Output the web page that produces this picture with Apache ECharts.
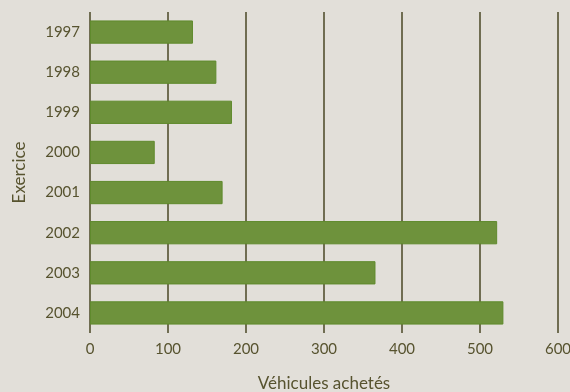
<!DOCTYPE html>
<html>
<head>
<meta charset="utf-8">
<script src="https://cdn.jsdelivr.net/npm/echarts@6/dist/echarts.min.js"></script>
<style>
  html, body { margin: 0; padding: 0; background: #e2dfd9; }
  #chart { width: 570px; height: 392px; }
</style>
</head>
<body>
<div id="chart"></div>
<script>
// Fleet purchases per fiscal year
const years = ['1997', '1998', '1999', '2000', '2001', '2002', '2003', '2004'];
const vehicles = [132, 162, 182, 83, 170, 522, 366, 530];
const xTicks = { min: 0, max: 600, interval: 100 };

const textColor = '#57532f';
const lineColor = '#4a4724';
const font = 'Lato, "Open Sans", sans-serif';

const chart = echarts.init(document.getElementById('chart'));
chart.setOption({
  backgroundColor: '#e2dfd9',
  animation: false,
  grid: { left: 90, right: 12, top: 12, bottom: 59, outerBoundsMode: 'none', containLabel: false },
  xAxis: {
    type: 'value',
    min: xTicks.min,
    max: xTicks.max,
    interval: xTicks.interval,
    name: 'Véhicules achetés',
    nameLocation: 'middle',
    nameGap: 42,
    nameTextStyle: { color: textColor, fontSize: 17, fontFamily: font },
    axisLine: { show: false },
    axisTick: { show: false },
    axisLabel: { color: textColor, fontSize: 15, fontFamily: font, margin: 9 },
    splitLine: { show: true, lineStyle: { color: lineColor, width: 1.5 } }
  },
  yAxis: {
    type: 'category',
    data: years,
    inverse: true,
    name: 'Exercice',
    nameLocation: 'middle',
    nameGap: 62,
    nameTextStyle: { color: textColor, fontSize: 17, fontFamily: font },
    axisLine: { show: false },
    axisTick: { show: false },
    axisLabel: { color: textColor, fontSize: 15, fontFamily: font, margin: 10 }
  },
  series: [{
    type: 'bar',
    data: vehicles,
    barCategoryGap: '42%',
    itemStyle: { color: '#6e923c', borderColor: '#5f8a2c', borderWidth: 1 }
  }]
});
</script>
</body>
</html>
